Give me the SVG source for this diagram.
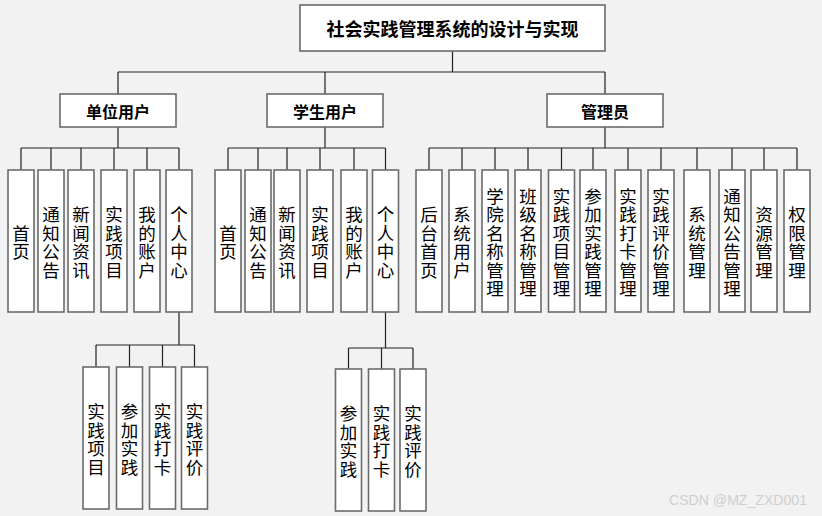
<svg xmlns="http://www.w3.org/2000/svg" width="822" height="516" viewBox="0 0 822 516">
<style>
.bx{fill:#fff;stroke:#6b6b6b;stroke-width:1.6}
.ln{fill:none;stroke:#222;stroke-width:1.2}
.t{font-family:"Noto Sans CJK SC","Noto Sans",sans-serif;font-size:17.5px;fill:#000;text-anchor:middle;dominant-baseline:central}
.h{font-family:"Noto Sans CJK SC","Noto Sans",sans-serif;font-weight:bold;fill:#000;text-anchor:middle;dominant-baseline:central}
.wm{font-family:"Liberation Sans","Noto Sans",sans-serif;font-size:14px;fill:#cfcfcf}
</style>
<rect x="0" y="0" width="822" height="516" fill="#f2f2f2"/>
<g id="connectors">
<path class="ln" d="M452.5 51V72M118 72H605M118 72V94M325 72V94M605 72V94"/>
<path class="ln" d="M118 127V148M21 148H179M21 148V170M51 148V170M81 148V170M114 148V170M147 148V170M179 148V170"/>
<path class="ln" d="M325 127V148M228 148H385.5M228 148V170M258 148V170M287 148V170M320 148V170M354 148V170M385.5 148V170"/>
<path class="ln" d="M605 127V148M429 148H797M429 148V170M462 148V170M495 148V170M528 148V170M561.5 148V170M593 148V170M628 148V170M661 148V170M697 148V170M732 148V170M764 148V170M797 148V170"/>
<path class="ln" d="M179 312V345M96 345H194.5M96 345V367M129.5 345V367M162.5 345V367M194.5 345V367"/>
<path class="ln" d="M385.5 312V348M348.5 348H413M348.5 348V369M381.5 348V369M413 348V369"/>
</g>
<g id="root"><rect class="bx" x="300" y="5" width="305" height="46"/><text class="h" x="452.5" y="28" font-size="18">社会实践管理系统的设计与实现</text></g>
<g id="unit"><rect class="bx" x="60" y="94" width="116" height="33"/><text class="h" x="118" y="110.5" font-size="16">单位用户</text></g>
<g id="student"><rect class="bx" x="267" y="94" width="116" height="33"/><text class="h" x="325" y="110.5" font-size="16">学生用户</text></g>
<g id="admin"><rect class="bx" x="547" y="94" width="116" height="33"/><text class="h" x="605" y="110.5" font-size="16">管理员</text></g>

<g id="u1"><rect class="bx" x="8" y="170" width="26" height="142"/><text class="t"><tspan x="21" y="231.75">首</tspan><tspan x="21" y="250.25">页</tspan></text></g>
<g id="u2"><rect class="bx" x="38" y="170" width="26" height="142"/><text class="t"><tspan x="51" y="213.25">通</tspan><tspan x="51" y="231.75">知</tspan><tspan x="51" y="250.25">公</tspan><tspan x="51" y="268.75">告</tspan></text></g>
<g id="u3"><rect class="bx" x="68" y="170" width="26" height="142"/><text class="t"><tspan x="81" y="213.25">新</tspan><tspan x="81" y="231.75">闻</tspan><tspan x="81" y="250.25">资</tspan><tspan x="81" y="268.75">讯</tspan></text></g>
<g id="u4"><rect class="bx" x="101" y="170" width="26" height="142"/><text class="t"><tspan x="114" y="213.25">实</tspan><tspan x="114" y="231.75">践</tspan><tspan x="114" y="250.25">项</tspan><tspan x="114" y="268.75">目</tspan></text></g>
<g id="u5"><rect class="bx" x="134" y="170" width="26" height="142"/><text class="t"><tspan x="147" y="213.25">我</tspan><tspan x="147" y="231.75">的</tspan><tspan x="147" y="250.25">账</tspan><tspan x="147" y="268.75">户</tspan></text></g>
<g id="u6"><rect class="bx" x="166" y="170" width="26" height="142"/><text class="t"><tspan x="179" y="213.25">个</tspan><tspan x="179" y="231.75">人</tspan><tspan x="179" y="250.25">中</tspan><tspan x="179" y="268.75">心</tspan></text></g>

<g id="u6a"><rect class="bx" x="83" y="367" width="26" height="142"/><text class="t"><tspan x="96" y="410.25">实</tspan><tspan x="96" y="428.75">践</tspan><tspan x="96" y="447.25">项</tspan><tspan x="96" y="465.75">目</tspan></text></g>
<g id="u6b"><rect class="bx" x="116.5" y="367" width="26" height="142"/><text class="t"><tspan x="129.5" y="410.25">参</tspan><tspan x="129.5" y="428.75">加</tspan><tspan x="129.5" y="447.25">实</tspan><tspan x="129.5" y="465.75">践</tspan></text></g>
<g id="u6c"><rect class="bx" x="149.5" y="367" width="26" height="142"/><text class="t"><tspan x="162.5" y="410.25">实</tspan><tspan x="162.5" y="428.75">践</tspan><tspan x="162.5" y="447.25">打</tspan><tspan x="162.5" y="465.75">卡</tspan></text></g>
<g id="u6d"><rect class="bx" x="181.5" y="367" width="26" height="142"/><text class="t"><tspan x="194.5" y="410.25">实</tspan><tspan x="194.5" y="428.75">践</tspan><tspan x="194.5" y="447.25">评</tspan><tspan x="194.5" y="465.75">价</tspan></text></g>

<g id="s1"><rect class="bx" x="215" y="170" width="26" height="142"/><text class="t"><tspan x="228" y="231.75">首</tspan><tspan x="228" y="250.25">页</tspan></text></g>
<g id="s2"><rect class="bx" x="245" y="170" width="26" height="142"/><text class="t"><tspan x="258" y="213.25">通</tspan><tspan x="258" y="231.75">知</tspan><tspan x="258" y="250.25">公</tspan><tspan x="258" y="268.75">告</tspan></text></g>
<g id="s3"><rect class="bx" x="274" y="170" width="26" height="142"/><text class="t"><tspan x="287" y="213.25">新</tspan><tspan x="287" y="231.75">闻</tspan><tspan x="287" y="250.25">资</tspan><tspan x="287" y="268.75">讯</tspan></text></g>
<g id="s4"><rect class="bx" x="307" y="170" width="26" height="142"/><text class="t"><tspan x="320" y="213.25">实</tspan><tspan x="320" y="231.75">践</tspan><tspan x="320" y="250.25">项</tspan><tspan x="320" y="268.75">目</tspan></text></g>
<g id="s5"><rect class="bx" x="341" y="170" width="26" height="142"/><text class="t"><tspan x="354" y="213.25">我</tspan><tspan x="354" y="231.75">的</tspan><tspan x="354" y="250.25">账</tspan><tspan x="354" y="268.75">户</tspan></text></g>
<g id="s6"><rect class="bx" x="372.5" y="170" width="26" height="142"/><text class="t"><tspan x="385.5" y="213.25">个</tspan><tspan x="385.5" y="231.75">人</tspan><tspan x="385.5" y="250.25">中</tspan><tspan x="385.5" y="268.75">心</tspan></text></g>

<g id="s6a"><rect class="bx" x="335.5" y="369" width="26" height="142"/><text class="t"><tspan x="348.5" y="412.25">参</tspan><tspan x="348.5" y="430.75">加</tspan><tspan x="348.5" y="449.25">实</tspan><tspan x="348.5" y="467.75">践</tspan></text></g>
<g id="s6b"><rect class="bx" x="368.5" y="369" width="26" height="142"/><text class="t"><tspan x="381.5" y="412.25">实</tspan><tspan x="381.5" y="430.75">践</tspan><tspan x="381.5" y="449.25">打</tspan><tspan x="381.5" y="467.75">卡</tspan></text></g>
<g id="s6c"><rect class="bx" x="400" y="369" width="26" height="142"/><text class="t"><tspan x="413" y="412.25">实</tspan><tspan x="413" y="430.75">践</tspan><tspan x="413" y="449.25">评</tspan><tspan x="413" y="467.75">价</tspan></text></g>

<g id="a1"><rect class="bx" x="416" y="170" width="26" height="142"/><text class="t"><tspan x="429" y="213.25">后</tspan><tspan x="429" y="231.75">台</tspan><tspan x="429" y="250.25">首</tspan><tspan x="429" y="268.75">页</tspan></text></g>
<g id="a2"><rect class="bx" x="449" y="170" width="26" height="142"/><text class="t"><tspan x="462" y="213.25">系</tspan><tspan x="462" y="231.75">统</tspan><tspan x="462" y="250.25">用</tspan><tspan x="462" y="268.75">户</tspan></text></g>
<g id="a3"><rect class="bx" x="482" y="170" width="26" height="142"/><text class="t"><tspan x="495" y="194.75">学</tspan><tspan x="495" y="213.25">院</tspan><tspan x="495" y="231.75">名</tspan><tspan x="495" y="250.25">称</tspan><tspan x="495" y="268.75">管</tspan><tspan x="495" y="287.25">理</tspan></text></g>
<g id="a4"><rect class="bx" x="515" y="170" width="26" height="142"/><text class="t"><tspan x="528" y="194.75">班</tspan><tspan x="528" y="213.25">级</tspan><tspan x="528" y="231.75">名</tspan><tspan x="528" y="250.25">称</tspan><tspan x="528" y="268.75">管</tspan><tspan x="528" y="287.25">理</tspan></text></g>
<g id="a5"><rect class="bx" x="548.5" y="170" width="26" height="142"/><text class="t"><tspan x="561.5" y="194.75">实</tspan><tspan x="561.5" y="213.25">践</tspan><tspan x="561.5" y="231.75">项</tspan><tspan x="561.5" y="250.25">目</tspan><tspan x="561.5" y="268.75">管</tspan><tspan x="561.5" y="287.25">理</tspan></text></g>
<g id="a6"><rect class="bx" x="580" y="170" width="26" height="142"/><text class="t"><tspan x="593" y="194.75">参</tspan><tspan x="593" y="213.25">加</tspan><tspan x="593" y="231.75">实</tspan><tspan x="593" y="250.25">践</tspan><tspan x="593" y="268.75">管</tspan><tspan x="593" y="287.25">理</tspan></text></g>
<g id="a7"><rect class="bx" x="615" y="170" width="26" height="142"/><text class="t"><tspan x="628" y="194.75">实</tspan><tspan x="628" y="213.25">践</tspan><tspan x="628" y="231.75">打</tspan><tspan x="628" y="250.25">卡</tspan><tspan x="628" y="268.75">管</tspan><tspan x="628" y="287.25">理</tspan></text></g>
<g id="a8"><rect class="bx" x="648" y="170" width="26" height="142"/><text class="t"><tspan x="661" y="194.75">实</tspan><tspan x="661" y="213.25">践</tspan><tspan x="661" y="231.75">评</tspan><tspan x="661" y="250.25">价</tspan><tspan x="661" y="268.75">管</tspan><tspan x="661" y="287.25">理</tspan></text></g>
<g id="a9"><rect class="bx" x="684" y="170" width="26" height="142"/><text class="t"><tspan x="697" y="213.25">系</tspan><tspan x="697" y="231.75">统</tspan><tspan x="697" y="250.25">管</tspan><tspan x="697" y="268.75">理</tspan></text></g>
<g id="a10"><rect class="bx" x="719" y="170" width="26" height="142"/><text class="t"><tspan x="732" y="194.75">通</tspan><tspan x="732" y="213.25">知</tspan><tspan x="732" y="231.75">公</tspan><tspan x="732" y="250.25">告</tspan><tspan x="732" y="268.75">管</tspan><tspan x="732" y="287.25">理</tspan></text></g>
<g id="a11"><rect class="bx" x="751" y="170" width="26" height="142"/><text class="t"><tspan x="764" y="213.25">资</tspan><tspan x="764" y="231.75">源</tspan><tspan x="764" y="250.25">管</tspan><tspan x="764" y="268.75">理</tspan></text></g>
<g id="a12"><rect class="bx" x="784" y="170" width="26" height="142"/><text class="t"><tspan x="797" y="213.25">权</tspan><tspan x="797" y="231.75">限</tspan><tspan x="797" y="250.25">管</tspan><tspan x="797" y="268.75">理</tspan></text></g>

<text class="wm" x="669" y="505" textLength="138" lengthAdjust="spacingAndGlyphs">CSDN @MZ_ZXD001</text>
</svg>
